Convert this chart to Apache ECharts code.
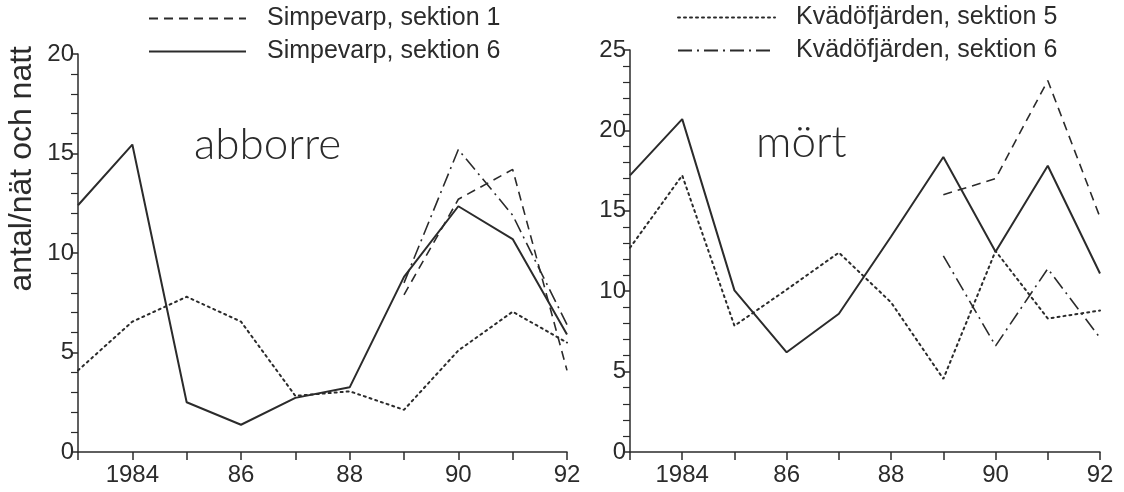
<!DOCTYPE html>
<html>
<head>
<meta charset="utf-8">
<script src="https://cdn.jsdelivr.net/npm/echarts@6.0.0/dist/echarts.min.js"></script>
<style>
  html, body { margin: 0; padding: 0; background: #fff; }
  #chart { width: 1124px; height: 492px; }
</style>
</head>
<body>
<div id="chart"></div>
<script>
// years on the x axis
var years = [1983, 1984, 1985, 1986, 1987, 1988, 1989, 1990, 1991, 1992];

// abborre (left panel)
var abbSimp1 = [null, null, null, null, null, null, 7.9, 12.7, 14.2, 4.1];
var abbSimp6 = [12.4, 15.45, 2.5, 1.37, 2.72, 3.25, 8.8, 12.35, 10.7, 5.9];
var abbKvad5 = [4.1, 6.55, 7.8, 6.55, 2.82, 3.05, 2.12, 5.1, 7.05, 5.5];
var abbKvad6 = [null, null, null, null, null, null, 8.5, 15.2, 11.9, 6.4];

// mört (right panel)
var mortSimp1 = [null, null, null, null, null, null, 16.0, 17.0, 23.1, 14.6];
var mortSimp6 = [17.2, 20.7, 10.05, 6.2, 8.6, 13.4, 18.35, 12.45, 17.8, 11.1];
var mortKvad5 = [12.7, 17.2, 7.85, 10.1, 12.4, 9.3, 4.55, 12.5, 8.3, 8.8];
var mortKvad6 = [null, null, null, null, null, null, 12.2, 6.6, 11.4, 7.1];

var names = ['Simpevarp, sektion 1', 'Simpevarp, sektion 6', 'Kvädöfjärden, sektion 5', 'Kvädöfjärden, sektion 6'];

var ink = '#2b2b2b';
var font = '"Liberation Sans", Arial, sans-serif';

var styles = [
    {type: [9, 6], width: 1.6},
    {type: 'solid', width: 2},
    {type: [2, 4], width: 2, cap: 'round'},
    {type: [14, 5, 2, 5], width: 1.6}
];

function pairs(vals) {
    return years.map(function (y, i) { return [y, vals[i]]; });
}

function mkSeries(name, vals, panel) {
    var st = styles[names.indexOf(name)];
    return {
        name: name,
        type: 'line',
        xAxisIndex: panel,
        yAxisIndex: panel,
        symbol: 'none',
        connectNulls: false,
        silent: true,
        lineStyle: {
            color: ink,
            width: st.width,
            type: st.type,
            cap: st.cap || 'butt'
        },
        itemStyle: {color: ink},
        data: pairs(vals)
    };
}

function xAx(grid) {
    return {
        type: 'value',
        gridIndex: grid,
        min: 1983,
        max: 1992,
        interval: 1,
        splitLine: {show: false},
        axisLine: {lineStyle: {color: ink, width: 1.5}},
        axisTick: {show: true, inside: false, length: 8, lineStyle: {color: ink, width: 1.5}},
        axisLabel: {
            color: ink,
            fontSize: 24,
            fontFamily: font,
            margin: 11,
            formatter: function (v) {
                if (v === 1984) return '1984';
                if (v > 1984 && v % 2 === 0) return String(v).slice(2);
                return '';
            }
        }
    };
}

function yAx(grid, max) {
    return {
        type: 'value',
        gridIndex: grid,
        min: 0,
        max: max,
        interval: 5,
        splitLine: {show: false},
        axisLine: {show: true, lineStyle: {color: ink, width: 1.5}},
        axisTick: {show: true, length: 7, lineStyle: {color: ink, width: 1.5}},
        minorTick: {show: true, splitNumber: 5, length: 7, lineStyle: {color: ink, width: 1.2}},
        axisLabel: {color: ink, fontSize: 24, fontFamily: font, margin: 4}
    };
}

function legendBox(items, left, top) {
    return {
        data: items,
        orient: 'vertical',
        left: left,
        top: top,
        itemWidth: 97,
        itemHeight: 14,
        itemGap: 8,
        selectedMode: false,
        itemStyle: {opacity: 0},
        textStyle: {color: ink, fontSize: 25, fontFamily: font, padding: [0, 0, 0, 16]}
    };
}

var chart = echarts.init(document.getElementById('chart'));
var option = {
    backgroundColor: '#fff',
    animation: false,
    grid: [
        {left: 78, right: 557, top: 54, bottom: 40},
        {left: 630, right: 24, top: 50, bottom: 40}
    ],
    xAxis: [xAx(0), xAx(1)],
    yAxis: [yAx(0, 20), yAx(1, 25)],
    legend: [
        legendBox([names[0], names[1]], 143, 1),
        legendBox([names[2], names[3]], 672, 0)
    ],
    graphic: [
        {
            type: 'text', left: 6, top: 46, rotation: Math.PI / 2,
            style: {text: 'antal/nät och natt', fill: ink, font: '32px ' + font}
        },
        {
            type: 'text', left: 194, top: 123,
            style: {text: 'abborre', fill: ink, font: '300 44px Lato, ' + font}
        },
        {
            type: 'text', left: 756, top: 121,
            style: {text: 'mört', fill: ink, font: '300 44px Lato, ' + font}
        }
    ],
    series: [
        mkSeries(names[0], abbSimp1, 0),
        mkSeries(names[1], abbSimp6, 0),
        mkSeries(names[2], abbKvad5, 0),
        mkSeries(names[3], abbKvad6, 0),
        mkSeries(names[0], mortSimp1, 1),
        mkSeries(names[1], mortSimp6, 1),
        mkSeries(names[2], mortKvad5, 1),
        mkSeries(names[3], mortKvad6, 1)
    ]
};
chart.setOption(option);
</script>
</body>
</html>
